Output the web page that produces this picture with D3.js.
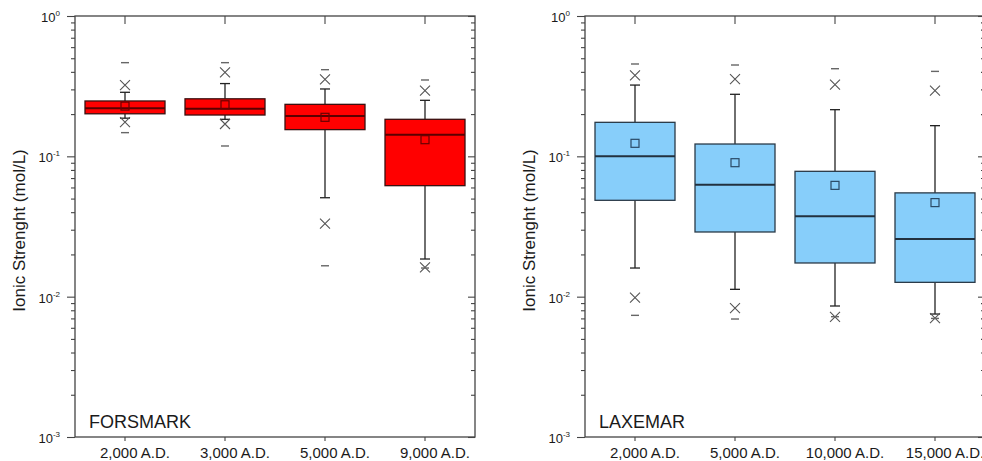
<!DOCTYPE html>
<html><head><meta charset="utf-8">
<script src="https://cdn.jsdelivr.net/npm/d3@7"></script>
<style>
html,body{margin:0;padding:0;background:#fff;}
svg{display:block;font-family:"Liberation Sans",Arial,sans-serif;}
</style></head><body>
<svg id="chart" width="982" height="461"></svg>
<script>
// ---------- DATA ----------
const forsmarkCategories = ["2,000 A.D.", "3,000 A.D.", "5,000 A.D.", "9,000 A.D."];
const forsmarkMin         = [0.1475, 0.1185, 0.0166, 0.0160];
const forsmarkP01         = [0.175, 0.170, 0.0331, 0.0162];
const forsmarkWhiskerLow  = [0.187, 0.1836, 0.0507, 0.01855];
const forsmarkQ1          = [0.201, 0.197, 0.155, 0.0618];
const forsmarkMedian      = [0.220, 0.2186, 0.1938, 0.1427];
const forsmarkMean        = [0.228, 0.233, 0.1897, 0.1314];
const forsmarkQ3          = [0.248, 0.257, 0.2347, 0.1836];
const forsmarkWhiskerHigh = [0.286, 0.330, 0.302, 0.2507];
const forsmarkP99         = [0.322, 0.397, 0.3537, 0.294];
const forsmarkMax         = [0.465, 0.465, 0.4145, 0.350];

const laxemarCategories = ["2,000 A.D.", "5,000 A.D.", "10,000 A.D.", "15,000 A.D."];
const laxemarMin         = [0.00736, 0.00693, 0.0072, 0.0070];
const laxemarP01         = [0.00984, 0.0083, 0.00719, 0.00702];
const laxemarWhiskerLow  = [0.0160, 0.01128, 0.00858, 0.00752];
const laxemarQ1          = [0.0486, 0.0289, 0.01738, 0.01265];
const laxemarMedian      = [0.100, 0.0628, 0.03737, 0.02576];
const laxemarMean        = [0.1238, 0.0901, 0.0621, 0.0468];
const laxemarQ3          = [0.1747, 0.1224, 0.0782, 0.0549];
const laxemarWhiskerHigh = [0.322, 0.2767, 0.215, 0.1654];
const laxemarP99         = [0.3777, 0.3556, 0.324, 0.294];
const laxemarMax         = [0.455, 0.4475, 0.421, 0.403];

const yTickExponents = [0, -1, -2, -3];
const yAxisTitle = "Ionic Strenght (mol/L)";

// ---------- DRAW ----------
const svg = d3.select("#chart");
const TOP = 16, BOTTOM = 437;
const AXIS_COLOR = "#444", TEXT_COLOR = "#1a1a1a";

function drawPanel(cfg) {
  const g = svg.append("g");
  const left = cfg.left, right = cfg.right;
  const y = d3.scaleLog().domain([1e-3, 1]).range([BOTTOM, TOP]);
  const x = d3.scaleBand().domain(cfg.categories).range([left, right])
              .paddingInner(0.2).paddingOuter(0.1);
  const bw = x.bandwidth();
  const majors = yTickExponents.map(e => Math.pow(10, e));
  const minors = y.ticks().filter(v => !majors.some(m => Math.abs(m - v) / m < 1e-6));

  // frame
  g.append("rect").attr("x", left).attr("y", TOP)
    .attr("width", right - left).attr("height", BOTTOM - TOP)
    .attr("fill", "none").attr("stroke", AXIS_COLOR).attr("stroke-width", 1.3);

  function styleAxis(sel) {
    sel.select(".domain").remove();
    sel.selectAll(".tick line").attr("stroke", AXIS_COLOR).attr("stroke-width", 1.1);
  }
  // left axis (outward ticks)
  g.append("g").call(d3.axisLeft(y).tickValues(majors).tickSize(8).tickSizeOuter(0).tickFormat(""))
    .attr("transform", `translate(${left},0)`).call(styleAxis);
  g.append("g").call(d3.axisLeft(y).tickValues(minors).tickSize(4).tickSizeOuter(0).tickFormat(""))
    .attr("transform", `translate(${left},0)`).call(styleAxis);
  // right axis (inward ticks)
  g.append("g").call(d3.axisLeft(y).tickValues(majors).tickSize(7).tickSizeOuter(0).tickFormat(""))
    .attr("transform", `translate(${right},0)`).call(styleAxis);
  g.append("g").call(d3.axisLeft(y).tickValues(minors).tickSize(4).tickSizeOuter(0).tickFormat(""))
    .attr("transform", `translate(${right},0)`).call(styleAxis);
  // top axis (inward ticks)
  g.append("g").call(d3.axisBottom(x).tickSize(8).tickSizeOuter(0).tickFormat(""))
    .attr("transform", `translate(0,${TOP})`).call(styleAxis);
  // bottom axis
  const bAx = g.append("g").call(d3.axisBottom(x).tickSize(4).tickSizeOuter(0))
    .attr("transform", `translate(0,${BOTTOM})`).call(styleAxis);
  bAx.selectAll(".tick text").attr("y", 21).attr("dy", 0).attr("dx", 10)
    .attr("font-size", 15).attr("fill", TEXT_COLOR)
    .attr("font-family", '"Liberation Sans",Arial,sans-serif');

  // y tick labels 10^n
  yTickExponents.forEach(e => {
    const t = g.append("text").attr("x", left - 15).attr("y", y(Math.pow(10, e)) + 6)
      .attr("text-anchor", "end").attr("fill", TEXT_COLOR);
    t.append("tspan").attr("font-size", 13).text("10");
    t.append("tspan").attr("font-size", 8).attr("dy", -6).text(String(e));
  });

  // y title
  g.append("text")
    .attr("transform", `translate(${left - 50},${(TOP + BOTTOM) / 2 + 4}) rotate(-90)`)
    .attr("text-anchor", "middle").attr("font-size", 17).attr("fill", TEXT_COLOR)
    .text(yAxisTitle);

  // panel label
  g.append("text").attr("x", left + 14).attr("y", BOTTOM - 9)
    .attr("font-size", 18).attr("fill", TEXT_COLOR).text(cfg.label);

  // boxes
  const s = cfg.stats;
  cfg.categories.forEach((c, i) => {
    const x0 = x(c), cx = x0 + bw / 2;
    const bg = g.append("g");
    // whiskers
    [[s.q3[i], s.wHigh[i]], [s.q1[i], s.wLow[i]]].forEach(([a, b]) => {
      bg.append("line").attr("x1", cx).attr("x2", cx).attr("y1", y(a)).attr("y2", y(b))
        .attr("stroke", "#222").attr("stroke-width", 1.3);
      bg.append("line").attr("x1", cx - 5).attr("x2", cx + 5).attr("y1", y(b)).attr("y2", y(b))
        .attr("stroke", "#222").attr("stroke-width", 1.3);
    });
    // box
    bg.append("rect").attr("x", x0).attr("y", y(s.q3[i]))
      .attr("width", bw).attr("height", y(s.q1[i]) - y(s.q3[i]))
      .attr("fill", cfg.fill).attr("stroke", cfg.stroke).attr("stroke-width", 1.3);
    // median
    bg.append("line").attr("x1", x0).attr("x2", x0 + bw)
      .attr("y1", y(s.median[i])).attr("y2", y(s.median[i]))
      .attr("stroke", cfg.medianColor).attr("stroke-width", 2);
    // mean square
    bg.append("rect").attr("x", cx - 4).attr("y", y(s.mean[i]) - 4)
      .attr("width", 8).attr("height", 8).attr("fill", "none")
      .attr("stroke", cfg.meanColor).attr("stroke-width", 1.2);
    // 1% / 99% crosses
    [s.p01[i], s.p99[i]].forEach(v => {
      const yy = y(v);
      bg.append("path")
        .attr("d", `M${cx - 5},${yy - 5}L${cx + 5},${yy + 5}M${cx - 5},${yy + 5}L${cx + 5},${yy - 5}`)
        .attr("stroke", "#555").attr("stroke-width", 1.1).attr("fill", "none");
    });
    // min / max dashes
    [s.min[i], s.max[i]].forEach(v => {
      bg.append("line").attr("x1", cx - 4).attr("x2", cx + 4).attr("y1", y(v)).attr("y2", y(v))
        .attr("stroke", "#666").attr("stroke-width", 1.4);
    });
  });
}

drawPanel({
  left: 75, right: 475, label: "FORSMARK", categories: forsmarkCategories,
  fill: "#ff0000", stroke: "#3a1010", medianColor: "#5a0000", meanColor: "#6a0000",
  stats: { min: forsmarkMin, p01: forsmarkP01, wLow: forsmarkWhiskerLow, q1: forsmarkQ1,
           median: forsmarkMedian, mean: forsmarkMean, q3: forsmarkQ3,
           wHigh: forsmarkWhiskerHigh, p99: forsmarkP99, max: forsmarkMax }
});
drawPanel({
  left: 585, right: 985, label: "LAXEMAR", categories: laxemarCategories,
  fill: "#87cefa", stroke: "#2a3a48", medianColor: "#22313f", meanColor: "#2a4a66",
  stats: { min: laxemarMin, p01: laxemarP01, wLow: laxemarWhiskerLow, q1: laxemarQ1,
           median: laxemarMedian, mean: laxemarMean, q3: laxemarQ3,
           wHigh: laxemarWhiskerHigh, p99: laxemarP99, max: laxemarMax }
});
</script>
</body></html>
